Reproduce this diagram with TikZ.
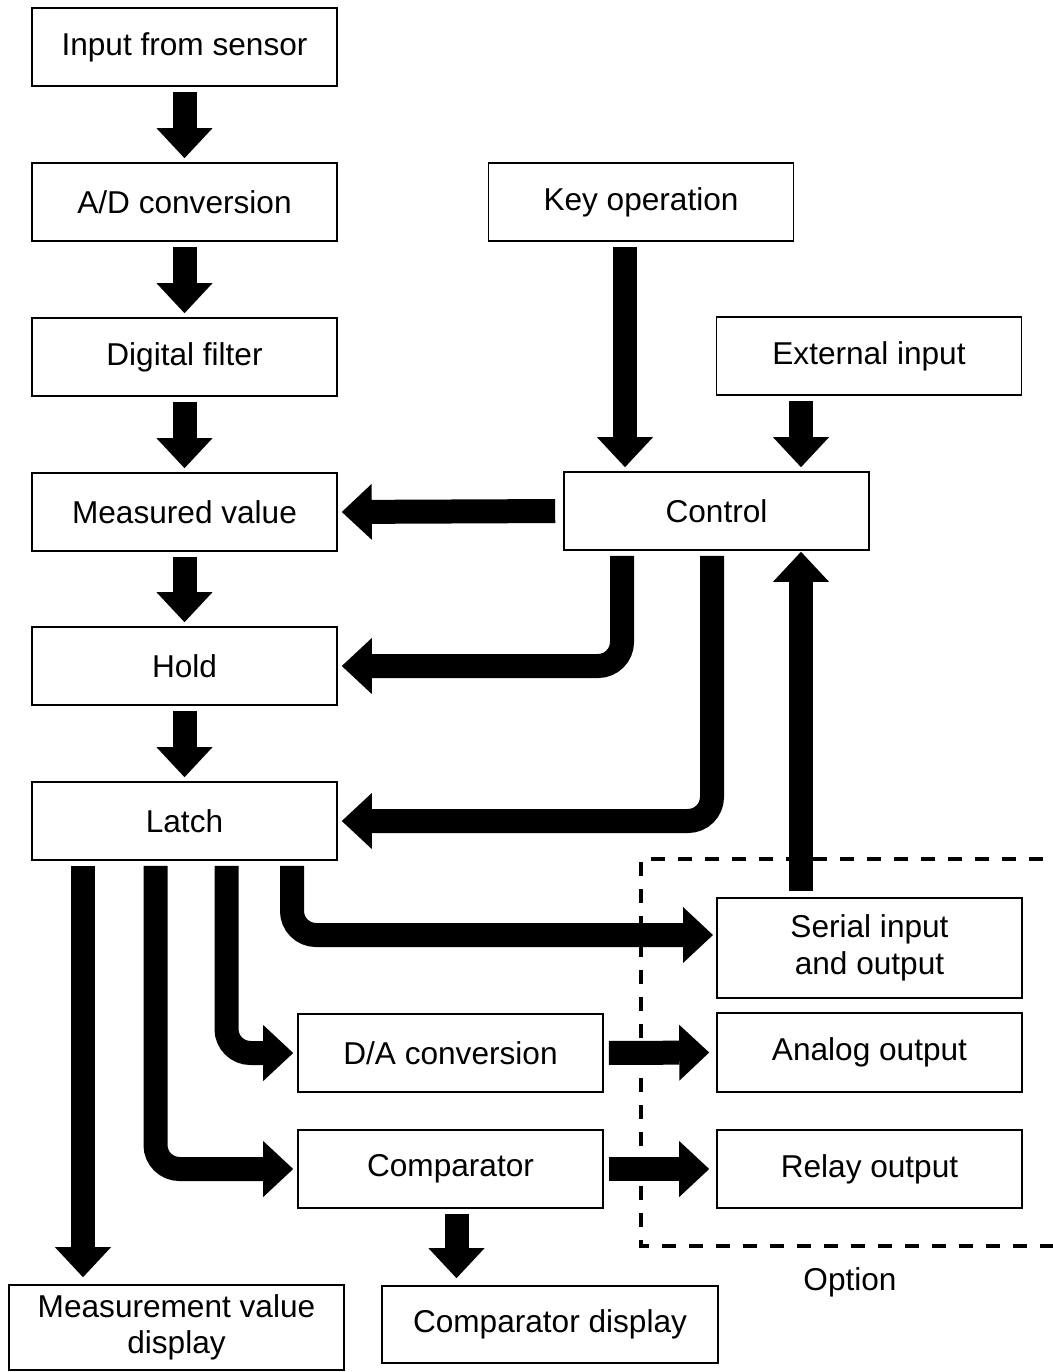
\documentclass[tikz,border=0pt]{standalone}
\usepackage{fontspec}
\setmainfont{Liberation Sans}
\usetikzlibrary{arrows.meta}
\begin{document}
\begin{tikzpicture}[x=1pt,y=-1pt,
  box/.style={draw, line width=1.6pt, inner sep=0pt, align=center,
    minimum width=305pt, minimum height=78pt,
    font=\fontsize{31.6pt}{36.5pt}\selectfont},
  flow/.style={line width=24pt, rounded corners=24pt,
    -{Triangle[length=30pt,width=56pt,line width=0pt]},
    shorten <=5pt, shorten >=4pt},
  optbox/.style={line width=4pt, dash pattern=on 14pt off 13pt},
  lbl/.style={font=\fontsize{31.6pt}{36.5pt}\selectfont}]
\useasboundingbox (0,0) rectangle (1052,1372);

% option frame
\draw[optbox] (1070,859) -| (641,1246) -- (1070,1246);
\node[lbl] (opt) at (850,1282) {Option};

% nodes
\node[box] (in)    at (184.5,47)  {Input from sensor};
\node[box] (ad)    at (184.5,202) {A/D conversion};
\node[box] (df)    at (184.5,357) {Digital filter};
\node[box] (mv)    at (184.5,512) {Measured value};
\node[box] (hold)  at (184.5,666) {Hold};
\node[box] (latch) at (184.5,821) {Latch};
\node[box] (key)   at (641,202)   {Key operation};
\node[box] (ext)   at (869,356)   {External input};
\node[box] (ctrl)  at (716.5,511) {Control};
\node[box, minimum height=100pt] (serial) at (869.5,948) {Serial input\\and output};
\node[box, minimum height=79pt] (analog) at (869.5,1052.5) {Analog output};
\node[box] (relay) at (869.5,1169) {Relay output};
\node[box] (da)    at (450.5,1053) {D/A conversion};
\node[box] (comp)  at (450.5,1169) {Comparator};
\node[box, minimum width=335pt, minimum height=85pt] (mvd) at (176.5,1327.5) {Measurement value\\display};
\node[box, minimum width=336pt, minimum height=77pt] (cd) at (550,1324.5) {Comparator display};

% column coordinates
\coordinate (cK) at (625,0);
\coordinate (cE) at (801,0);
\coordinate (cA) at (622,0);
\coordinate (cB) at (712,0);
\coordinate (d1) at (83,0);
\coordinate (d2) at (155.5,0);
\coordinate (d3) at (226.5,0);
\coordinate (d4) at (292,0);
\coordinate (e1) at (456.5,0);
\coordinate (sIn) at (717,935);

% connectors
\draw[flow] (in.south) -- (ad.north);
\draw[flow] (ad.south) -- (df.north);
\draw[flow] (df.south) -- (mv.north);
\draw[flow] (mv.south) -- (hold.north);
\draw[flow] (hold.south) -- (latch.north);
\draw[flow] (key.south -| cK) -- (ctrl.north -| cK);
\draw[flow] (ext.south -| cE) -- (ctrl.north -| cE);
\draw[flow, shorten <=8pt] (ctrl.west) -- (mv.east);
\draw[flow] (ctrl.south -| cA) |- (hold.east);
\draw[flow] (ctrl.south -| cB) |- (latch.east);
\draw[flow, shorten <=6pt, shorten >=1pt] (serial.north -| cE) -- (ctrl.south -| cE);
\draw[flow, shorten >=7pt] (latch.south -| d1) -- (mvd.north -| d1);
\draw[flow] (latch.south -| d2) |- (comp.west);
\draw[flow] (latch.south -| d3) |- (da.west);
\draw[flow] (latch.south -| d4) |- (sIn);
\draw[flow, shorten >=7pt] (da.east) -- (analog.west);
\draw[flow, shorten >=7pt] (comp.east) -- (relay.west);
\draw[flow, shorten >=7pt] (comp.south -| e1) -- (cd.north -| e1);
\end{tikzpicture}
\end{document}
